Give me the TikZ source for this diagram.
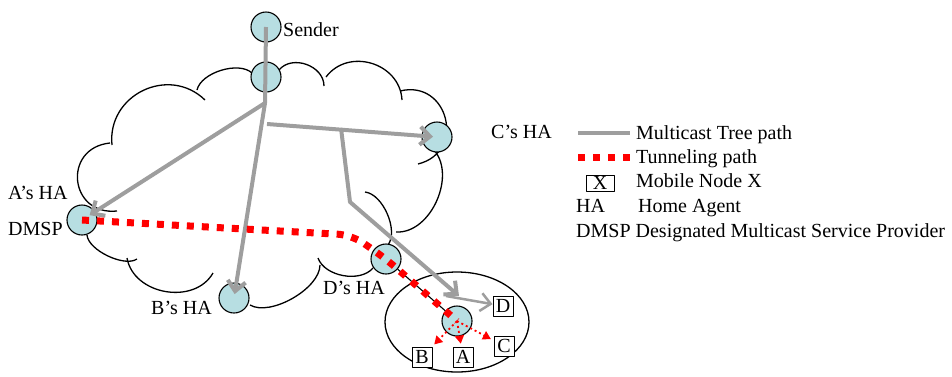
\documentclass[tikz,border=0pt]{standalone}
\usepackage{fontspec}
\setmainfont{Liberation Serif}
\usetikzlibrary{arrows.meta}
\definecolor{hubfill}{RGB}{183,222,226}
\definecolor{treegray}{RGB}{158,158,158}
\begin{document}
\begin{tikzpicture}[x=1pt,y=-1pt,line join=round,font=\fontsize{20}{23}\selectfont,
  hub/.style={circle,draw,line width=1.1pt,fill=hubfill,minimum size=30pt,inner sep=0pt},
  mobile/.style={draw,line width=0.9pt,fill=white,minimum size=20pt,inner sep=0pt},
  cloudline/.style={line width=1.3pt},
  tree/.style={treegray,line width=4pt,-{Straight Barb[length=10pt,width=18pt]}},
  tunnel/.style={red,line width=7pt,dash pattern=on 7pt off 8pt},
  hop/.style={red,line width=1.8pt,dash pattern=on 2pt off 3pt,-{Triangle[length=8pt,width=9pt]}}]
\useasboundingbox (0,0) rectangle (952,376);
% cloud
\draw[cloudline] (197,90) to[bend left=60,looseness=0.8] (252,73)
  (279,70) to[bend left=70,looseness=1.1] (324,86)
  (326,77) to[bend left=70,looseness=1.2] (402,100)
  (400,91) to[bend left=90,looseness=1.7] (418,164)
  (432,148) to[bend left=70,looseness=1.0] (396,232)
  (365,192) to[bend left=60,looseness=0.8] (388,245)
  (373,268) to[bend left=60,looseness=0.9] (318,258)
  (320,265) to[bend left=60,looseness=0.75] (250,305)
  (213,273) to[bend left=70,looseness=1.1] (127,258)
  (137,259) to[bend left=60,looseness=0.7] (87,235)
  (117,211) to[bend left=90,looseness=1.8] (110,143)
  (112,145) to[bend left=70,looseness=1.25] (205,100);
\draw[line width=1.3pt] (457,322) ellipse [x radius=72,y radius=50];
% hubs
\node[hub] (snd) at (266,27) {};
\node[hub] (rt) at (266,77) {};
\node[hub] (ha_c) at (437,137) {};
\node[hub] (ha_a) at (82,220) {};
\node[hub] (ha_b) at (234,298) {};
\node[hub] (ha_d) at (386,259) {};
\node[hub] (fa) at (457,321) {};
\draw[line width=1.1pt] (snd) -- (rt);
\draw[line width=1.1pt] (ha_d) -- (fa);
% mobile nodes
\node[mobile] (mn_d) at (503,306) {D};
\node[mobile] (mn_b) at (422,357) {B};
\node[mobile] (mn_a) at (463,357) {A};
\node[mobile] (mn_c) at (504,346) {C};
% labels
\node[anchor=base west,inner sep=0pt] (l_snd) at (283,36) {Sender};
\node[anchor=base west,inner sep=0pt] (l_c) at (491,138) {C’s HA};
\node[anchor=base west,inner sep=0pt] (l_a) at (8,199) {A’s HA};
\node[anchor=base west,inner sep=0pt] (l_dmsp) at (8,235) {DMSP};
\node[anchor=base west,inner sep=0pt] (l_b) at (151,314) {B’s HA};
\node[anchor=base west,inner sep=0pt] (l_d) at (323,294) {D’s HA};
% multicast tree
\coordinate (b1) at (265,103);
\coordinate (b2) at (267,124);
\coordinate (b3) at (341,128);
\coordinate (b4) at (350,202);
\coordinate (b5) at (459,296);
\coordinate (b6) at (446,296);
\draw[tree] (snd.center) -- (b1) -- (ha_a.center) [shorten >=9pt];
\draw[tree,shorten >=4pt] (b1) -- (ha_b.center);
\draw[tree,shorten >=4pt] (b2) -- (ha_c.center);
\draw[tree] (b3) -- (b4) -- (b5);
\draw[tree,line width=2.5pt] (b6) -- (mn_d);
% tunnel
\draw[tunnel,rounded corners=14pt] (ha_a.center) -- (352,235) -- (ha_d.center) -- (fa.center);
\draw[hop,shorten >=3pt] (fa.center) -- (mn_b);
\draw[hop,shorten >=3pt] (fa.center) -- (mn_a);
\draw[hop,shorten >=3pt] (fa.center) -- (mn_c);
% legend
\draw[treegray,line width=4pt] (578,133) -- (630,133);
\node[anchor=base west,inner sep=0pt] (k1) at (636,139) {Multicast Tree path};
\draw[tunnel] (578,157) -- (634,157);
\node[anchor=base west,inner sep=0pt] (k2) at (636,163) {Tunneling path};
\node[mobile,minimum width=28pt,minimum height=16pt] (kx) at (600,183) {X};
\node[anchor=base west,inner sep=0pt] (k3) at (636,187) {Mobile Node X};
\node[anchor=base west,inner sep=0pt] (k4) at (576,212) {HA};
\node[anchor=base west,inner sep=0pt] (k5) at (638,212) {Home Agent};
\node[anchor=base west,inner sep=0pt] (k6) at (576,237) {DMSP Designated Multicast Service Provider};
\end{tikzpicture}
\end{document}
